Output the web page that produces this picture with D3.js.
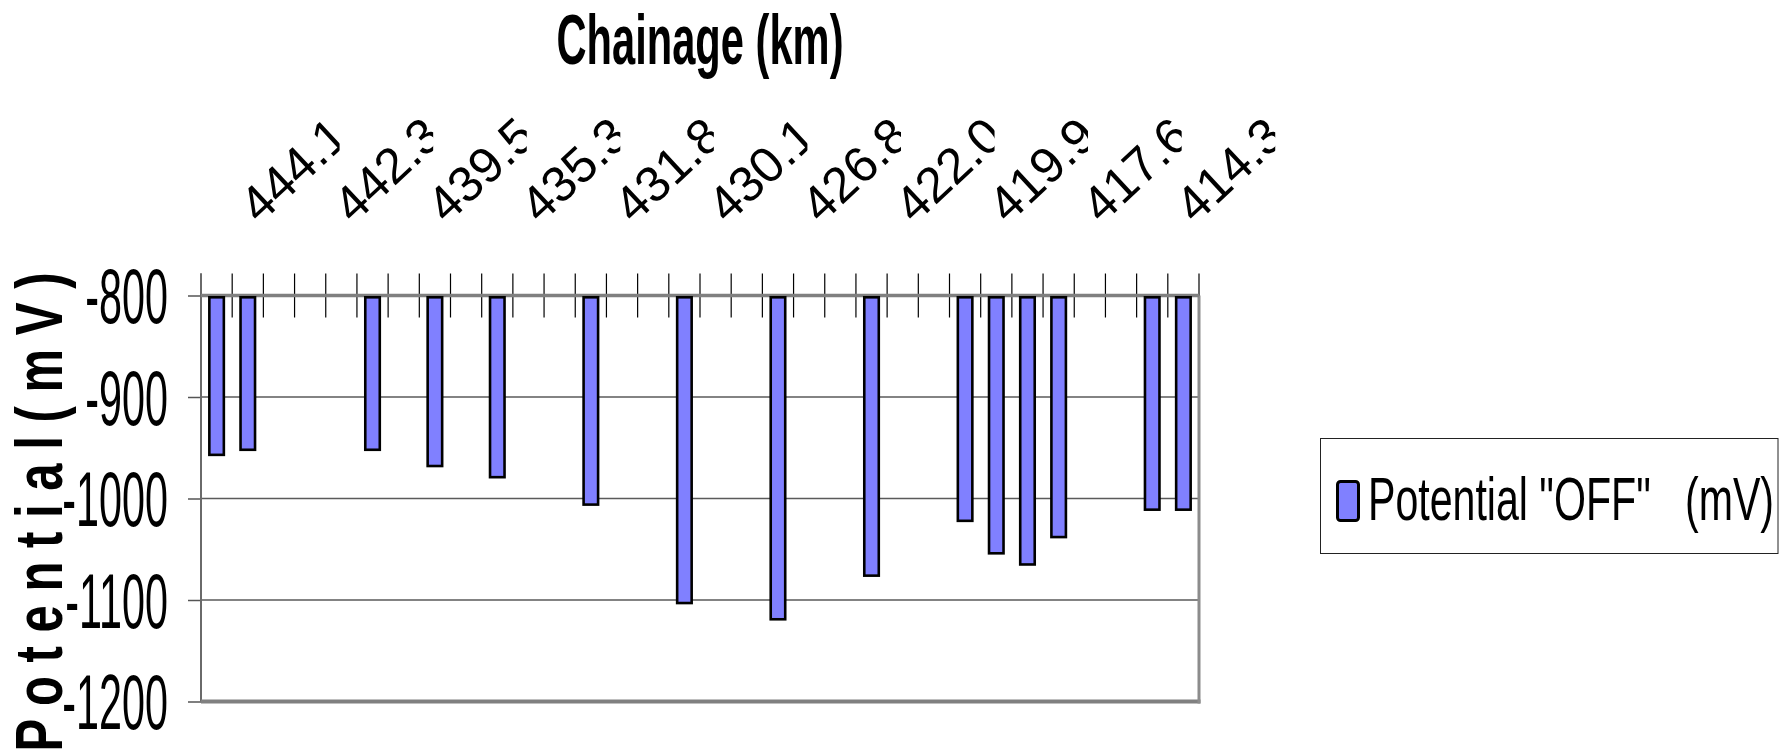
<!DOCTYPE html>
<html>
<head>
<meta charset="utf-8">
<script src="https://cdn.jsdelivr.net/npm/d3@7/dist/d3.min.js"></script>
<style>
  html, body { margin: 0; padding: 0; background: #ffffff; }
  svg { display: block; }
  text { font-family: "Liberation Sans", Arial, sans-serif; }
</style>
</head>
<body>
<script>
// Cathodic protection survey: "OFF" potential per station along the pipeline.
// Stations without a reading are null.
const potentialOff = [
  -957, -952, null, null, null, -952, null, -968, null, -979,
  null, null, -1006, null, null, -1103, null, null, -1119, null,
  null, -1076, null, null, -1022, -1054, -1065, -1038, null, null,
  -1011, -1011
];

// Chainage labels, printed on every third station.
const chainageLabels = [
  "444.1", "442.3", "439.5", "435.3", "431.8", "430.1",
  "426.8", "422.0", "419.9", "417.6", "414.3"
];
const labelEvery = 3;

const yTicks = [-800, -900, -1000, -1100, -1200];
const yDomain = [-800, -1200];

const seriesName = 'Potential "OFF"   (mV)';
const xTitle = "Chainage (km)";
const yTitle = "P o t e n t i a l ( m V )";

// ---------------------------------------------------------------
const W = 1786, H = 749;
const plot = { left: 201, right: 1199, top: 295.5, bottom: 701.5 };
const barFill = "#8080ff";

const svg = d3.select("body").append("svg")
  .attr("width", W).attr("height", H);

const x = d3.scaleBand()
  .domain(d3.range(potentialOff.length))
  .range([plot.left, plot.right])
  .padding(0);

const y = d3.scaleLinear().domain(yDomain).range([plot.top, plot.bottom]);

// horizontal gridlines
svg.append("g").selectAll("line")
  .data(yTicks.filter(v => v !== yDomain[0] && v !== yDomain[1]))
  .join("line")
  .attr("x1", plot.left).attr("x2", plot.right)
  .attr("y1", d => y(d)).attr("y2", d => y(d))
  .attr("stroke", "#5a5a5a").attr("stroke-width", 1.5);

// category tick marks crossing the top axis
const boundaries = d3.range(potentialOff.length + 1)
  .map(i => plot.left + i * x.step());
svg.append("g").selectAll("line")
  .data(boundaries)
  .join("line")
  .attr("x1", d => d).attr("x2", d => d)
  .attr("y1", y(yDomain[0]) - 22).attr("y2", y(yDomain[0]) + 22)
  .attr("stroke", "#000").attr("stroke-width", 1.2);

// left value axis
const yAxis = d3.axisLeft(y).tickValues(yTicks).tickSize(13).tickFormat("");
const yAxisG = svg.append("g")
  .attr("transform", `translate(${plot.left},0)`)
  .call(yAxis);
yAxisG.select(".domain").remove();
yAxisG.selectAll(".tick line").attr("stroke", "#555").attr("stroke-width", 1.5);
svg.append("line")
  .attr("x1", plot.left).attr("x2", plot.left)
  .attr("y1", y(yDomain[0]) - 22).attr("y2", plot.bottom)
  .attr("stroke", "#6a6a6a").attr("stroke-width", 2);

// plot area border (bottom and right)
svg.append("line")
  .attr("x1", plot.left).attr("x2", plot.right + 1.5)
  .attr("y1", plot.bottom).attr("y2", plot.bottom)
  .attr("stroke", "#808080").attr("stroke-width", 4);
svg.append("line")
  .attr("x1", plot.right).attr("x2", plot.right)
  .attr("y1", plot.top).attr("y2", plot.bottom + 2)
  .attr("stroke", "#8c8c8c").attr("stroke-width", 3);

// category axis line at -800
svg.append("line")
  .attr("x1", plot.left).attr("x2", plot.right)
  .attr("y1", y(yDomain[0])).attr("y2", y(yDomain[0]))
  .attr("stroke", "#808080").attr("stroke-width", 3.5);

// bars hanging from the -800 axis
const barW = 14.5;
svg.append("g").selectAll("rect")
  .data(potentialOff.map((v, i) => ({ i, v })).filter(d => d.v !== null))
  .join("rect")
  .attr("x", d => x(d.i) + (x.bandwidth() - barW) / 2)
  .attr("y", y(yDomain[0]) + 1.8)
  .attr("width", barW)
  .attr("height", d => y(d.v) - y(yDomain[0]) - 1.8)
  .attr("fill", barFill)
  .attr("stroke", "#000")
  .attr("stroke-width", 2.6);

// value tick labels (condensed), plain hyphen for the sign
const yLab = svg.append("g");
yTicks.forEach(v => {
  yLab.append("text")
    .attr("transform", `translate(168,${y(v)}) scale(0.53,1)`)
    .attr("text-anchor", "end")
    .attr("dy", "0.355em")
    .attr("font-size", 78)
    .attr("fill", "#000")
    .text(String(v));
});

// rotated chainage labels, each clipped to its own column
const defs = svg.append("defs");
defs.append("clipPath").attr("id", "labelClip")
  .append("rect")
  .attr("x", -90).attr("y", -260).attr("width", 170).attr("height", 320);

const labG = svg.append("g");
chainageLabels.forEach((lab, k) => {
  const i = k * labelEvery;
  const g = labG.append("g")
    .attr("transform", `translate(${x(i) + x.bandwidth() / 2 + 43},225)`)
    .attr("clip-path", "url(#labelClip)");
  g.append("text")
    .attr("transform", "rotate(-43)")
    .attr("font-size", 50)
    .attr("fill", "#000")
    .text(lab);
});

// chart title above the category labels
svg.append("text")
  .attr("x", (plot.left + plot.right) / 2)
  .attr("y", 64)
  .attr("text-anchor", "middle")
  .attr("font-size", 70)
  .attr("font-weight", "bold")
  .attr("textLength", 287)
  .attr("lengthAdjust", "spacingAndGlyphs")
  .text(xTitle);

// value axis title
svg.append("text")
  .attr("transform", "translate(62,512) rotate(-90)")
  .attr("text-anchor", "middle")
  .attr("font-size", 67)
  .attr("font-weight", "bold")
  .attr("textLength", 479)
  .attr("lengthAdjust", "spacingAndGlyphs")
  .style("white-space", "pre")
  .text(yTitle);

// legend
const leg = svg.append("g");
leg.append("rect")
  .attr("x", 1320.5).attr("y", 438.5)
  .attr("width", 457.5).attr("height", 115)
  .attr("fill", "#fff").attr("stroke", "#222").attr("stroke-width", 1);
leg.append("rect")
  .attr("x", 1337.5).attr("y", 481.5)
  .attr("width", 21).attr("height", 39).attr("rx", 3)
  .attr("fill", barFill).attr("stroke", "#000").attr("stroke-width", 3);
leg.append("text")
  .attr("x", 1368).attr("y", 520)
  .attr("font-size", 62)
  .attr("textLength", 406)
  .attr("lengthAdjust", "spacingAndGlyphs")
  .style("white-space", "pre")
  .text(seriesName);
</script>
</body>
</html>
